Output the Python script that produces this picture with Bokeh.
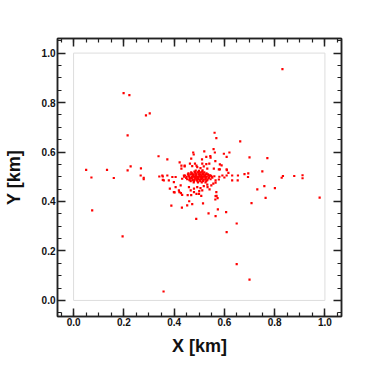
from bokeh.plotting import figure
from bokeh.models import LinearAxis, FixedTicker, Range1d, PrintfTickFormatter, CustomJSTickFormatter
from bokeh.embed import file_html
from bokeh.resources import INLINE

# Outlying and scattered points (km)
x_outer = [0.831, 0.199, 0.222, 0.288, 0.303, 0.215, 0.338, 0.050, 0.071, 0.133,
           0.160, 0.074, 0.195, 0.358, 0.649, 0.700, 0.609, 0.649, 0.607, 0.565,
           0.574, 0.537, 0.488, 0.515, 0.472, 0.452, 0.431, 0.389, 0.460, 0.708,
           0.764, 0.979, 0.402, 0.421, 0.427, 0.454, 0.468, 0.489, 0.500, 0.508,
           0.568, 0.569, 0.564, 0.573, 0.731, 0.759, 0.801, 0.215, 0.227, 0.268,
           0.267, 0.279, 0.279, 0.341, 0.355, 0.355, 0.561, 0.568, 0.663, 0.373,
           0.422, 0.476, 0.478, 0.520, 0.557, 0.562, 0.544, 0.545, 0.528, 0.468,
           0.511, 0.564, 0.429, 0.442, 0.463, 0.483, 0.489, 0.512, 0.528, 0.540,
           0.558, 0.578, 0.620, 0.598, 0.609, 0.700, 0.771, 0.589, 0.609, 0.582,
           0.751, 0.680, 0.695, 0.694, 0.833, 0.828, 0.878, 0.911, 0.911, 0.610,
           0.616, 0.609, 0.631, 0.631, 0.653, 0.654, 0.565, 0.578, 0.565, 0.556,
           0.548, 0.565, 0.533, 0.541, 0.353, 0.359, 0.373, 0.393, 0.406, 0.379,
           0.399, 0.406, 0.426, 0.432, 0.439, 0.429, 0.442, 0.383, 0.399, 0.419,
           0.432, 0.459, 0.466, 0.479, 0.479, 0.492, 0.505, 0.518, 0.532, 0.512,
           0.499, 0.472, 0.492, 0.505, 0.518, 0.532, 0.582]
y_outer = [0.935, 0.838, 0.830, 0.748, 0.756, 0.667, 0.583, 0.528, 0.497, 0.528,
           0.495, 0.364, 0.259, 0.036, 0.147, 0.084, 0.276, 0.311, 0.357, 0.341,
           0.368, 0.352, 0.330, 0.392, 0.389, 0.384, 0.375, 0.383, 0.401, 0.393,
           0.415, 0.416, 0.437, 0.438, 0.434, 0.426, 0.426, 0.431, 0.442, 0.423,
           0.438, 0.423, 0.408, 0.414, 0.449, 0.462, 0.454, 0.526, 0.542, 0.534,
           0.505, 0.496, 0.490, 0.501, 0.501, 0.487, 0.678, 0.656, 0.643, 0.570,
           0.558, 0.598, 0.590, 0.603, 0.612, 0.598, 0.584, 0.577, 0.580, 0.573,
           0.570, 0.563, 0.545, 0.545, 0.553, 0.553, 0.545, 0.553, 0.551, 0.553,
           0.533, 0.530, 0.598, 0.593, 0.580, 0.578, 0.575, 0.546, 0.530, 0.530,
           0.522, 0.511, 0.514, 0.499, 0.503, 0.496, 0.503, 0.506, 0.494, 0.527,
           0.516, 0.505, 0.505, 0.485, 0.485, 0.505, 0.485, 0.489, 0.476, 0.472,
           0.465, 0.422, 0.458, 0.449, 0.505, 0.485, 0.505, 0.499, 0.499, 0.485,
           0.478, 0.458, 0.465, 0.492, 0.505, 0.533, 0.542, 0.452, 0.438, 0.445,
           0.427, 0.458, 0.445, 0.438, 0.452, 0.458, 0.454, 0.462, 0.468, 0.445,
           0.431, 0.543, 0.539, 0.535, 0.542, 0.533, 0.550]

# Dense core around the centre (km)
x_core = [0.440, 0.450, 0.460, 0.470, 0.475, 0.480, 0.485, 0.490, 0.495, 0.500,
          0.505, 0.510, 0.515, 0.520, 0.525, 0.530, 0.540, 0.550, 0.560, 0.580,
          0.455, 0.465, 0.472, 0.478, 0.488, 0.497, 0.503, 0.512, 0.518, 0.527,
          0.535, 0.452, 0.462, 0.473, 0.482, 0.491, 0.498, 0.507, 0.516, 0.524,
          0.533, 0.545, 0.468, 0.483, 0.494, 0.506, 0.520, 0.466, 0.479, 0.493,
          0.504, 0.515, 0.528, 0.458, 0.476, 0.487, 0.501, 0.509, 0.522, 0.537,
          0.470, 0.484, 0.496, 0.511, 0.526, 0.486, 0.499, 0.513, 0.592, 0.600,
          0.448, 0.463, 0.477, 0.492, 0.508, 0.521, 0.538, 0.552, 0.457, 0.471,
          0.486, 0.500, 0.514, 0.529, 0.543, 0.461, 0.474, 0.489, 0.503, 0.517,
          0.532, 0.547, 0.478, 0.495, 0.510, 0.525, 0.481, 0.497, 0.512, 0.443]
y_core = [0.500, 0.500, 0.500, 0.500, 0.500, 0.500, 0.500, 0.500, 0.500, 0.500,
          0.500, 0.500, 0.500, 0.500, 0.500, 0.500, 0.500, 0.500, 0.502, 0.500,
          0.510, 0.510, 0.510, 0.510, 0.510, 0.510, 0.510, 0.510, 0.510, 0.510,
          0.510, 0.490, 0.490, 0.490, 0.490, 0.490, 0.490, 0.490, 0.490, 0.490,
          0.490, 0.490, 0.518, 0.518, 0.518, 0.518, 0.518, 0.482, 0.482, 0.482,
          0.482, 0.482, 0.482, 0.505, 0.505, 0.505, 0.505, 0.505, 0.505, 0.505,
          0.495, 0.495, 0.495, 0.495, 0.495, 0.525, 0.524, 0.526, 0.505, 0.497,
          0.495, 0.495, 0.505, 0.495, 0.495, 0.503, 0.495, 0.496, 0.514, 0.514,
          0.514, 0.514, 0.514, 0.514, 0.506, 0.486, 0.486, 0.486, 0.486, 0.486,
          0.486, 0.504, 0.477, 0.477, 0.477, 0.477, 0.521, 0.520, 0.521, 0.505]

x_ticks = [0.0, 0.2, 0.4, 0.6, 0.8, 1.0]
y_ticks = [0.0, 0.2, 0.4, 0.6, 0.8, 1.0]
box_x = [0.0, 1.0, 1.0, 0.0, 0.0]
box_y = [0.0, 0.0, 1.0, 1.0, 0.0]

FONT = "Liberation Sans"
p = figure(frame_width=284, frame_height=278, output_backend="svg",
           toolbar_location=None,
           x_range=Range1d(-0.064, 1.066), y_range=Range1d(-0.065, 1.059),
           min_border_left=57, min_border_right=26, min_border_top=38,
           min_border_bottom=46)
p.xgrid.visible = False
p.ygrid.visible = False
p.outline_line_color = "#222222"
p.outline_line_width = 1.5
p.background_fill_color = "white"
p.border_fill_color = "white"

p.line(box_x, box_y, line_color="#dddddd", line_width=1)
p.scatter(x_outer + x_core, y_outer + y_core, marker="square", size=2.2,
          fill_color="#ff0000", line_color=None)

def style(ax, ticks, labels=True):
    ax.ticker = FixedTicker(ticks=ticks,
                            minor_ticks=[i * 0.05 for i in range(-1, 22)])
    if labels:
        ax.formatter = PrintfTickFormatter(format="%.1f")
    else:
        ax.formatter = CustomJSTickFormatter(code="return ''")
    ax.major_tick_in = 8
    ax.major_tick_out = 0
    ax.minor_tick_in = 4
    ax.minor_tick_out = 0
    ax.major_tick_line_color = "#222222"
    ax.minor_tick_line_color = "#222222"
    ax.major_tick_line_width = 1.5
    ax.minor_tick_line_width = 1.2
    ax.axis_line_color = "#222222"
    ax.axis_line_width = 1.5
    ax.major_label_text_font = FONT
    ax.major_label_text_font_style = "bold"
    ax.major_label_text_font_size = "10px"
    ax.major_label_text_color = "#111111"
    ax.major_label_standoff = 2
    ax.axis_label_text_font = FONT
    ax.axis_label_text_font_style = "bold"
    ax.axis_label_text_font_size = "18px"
    ax.axis_label_text_color = "#111111"

style(p.xaxis[0], x_ticks)
style(p.yaxis[0], y_ticks)
p.xaxis[0].axis_label = "X [km]"
p.yaxis[0].axis_label = "Y [km]"
p.xaxis[0].major_label_standoff = 1
p.xaxis[0].axis_label_standoff = 7
p.yaxis[0].axis_label_standoff = 15

top = LinearAxis()
right = LinearAxis()
style(top, x_ticks, labels=False)
style(right, y_ticks, labels=False)
p.add_layout(top, "above")
p.add_layout(right, "right")

open("out.html", "w").write(file_html(p, INLINE))
